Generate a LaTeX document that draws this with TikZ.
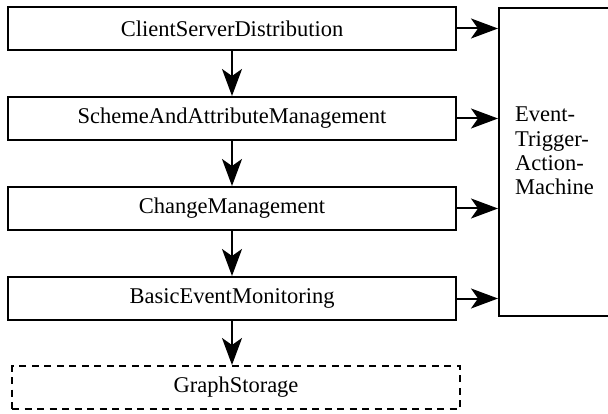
\documentclass[tikz,border=0pt]{standalone}
\usepackage{fontspec}
\setmainfont{Liberation Serif}
\usetikzlibrary{arrows.meta}
\begin{document}
\begin{tikzpicture}[x=1pt,y=-1pt,
  every node/.style={font=\fontsize{22.5}{24.3}\selectfont},
  layer/.style={draw, line width=2pt, minimum width=448pt, minimum height=43pt, inner sep=0pt},
  storage/.style={layer, dash pattern=on 7pt off 5.5pt},
  arr/.style={line width=2pt, -{Stealth[length=27pt, width=20pt, inset=7pt]}}]
\useasboundingbox (0,0) rectangle (608,414);
\node[layer] (b1) at (232,28.5) {ClientServerDistribution};
\node[layer] (b2) at (232,118.5) {SchemeAndAttributeManagement};
\node[layer] (b3) at (232,208.5) {ChangeManagement};
\node[layer] (b4) at (232,298.5) {BasicEventMonitoring};
\node[storage] (gs) at (236,387.5) {GraphStorage};
\node[draw, line width=2pt, minimum width=120pt, minimum height=308pt, inner sep=0pt] (ev) at (559,162) {};
\node[anchor=north west, inner sep=0pt, text width=85pt, align=left] (evt) at (515,107) {Event-\\Trigger-\\Action-\\Machine};
\draw[arr] (b1) -- (b2);
\draw[arr] (b2) -- (b3);
\draw[arr] (b3) -- (b4);
\draw[arr] (b4.south) -- (b4.south |- gs.north);
\draw[arr] (b1.east) -- (b1.east -| ev.west);
\draw[arr] (b2.east) -- (b2.east -| ev.west);
\draw[arr] (b3.east) -- (b3.east -| ev.west);
\draw[arr] (b4.east) -- (b4.east -| ev.west);
\end{tikzpicture}
\end{document}
